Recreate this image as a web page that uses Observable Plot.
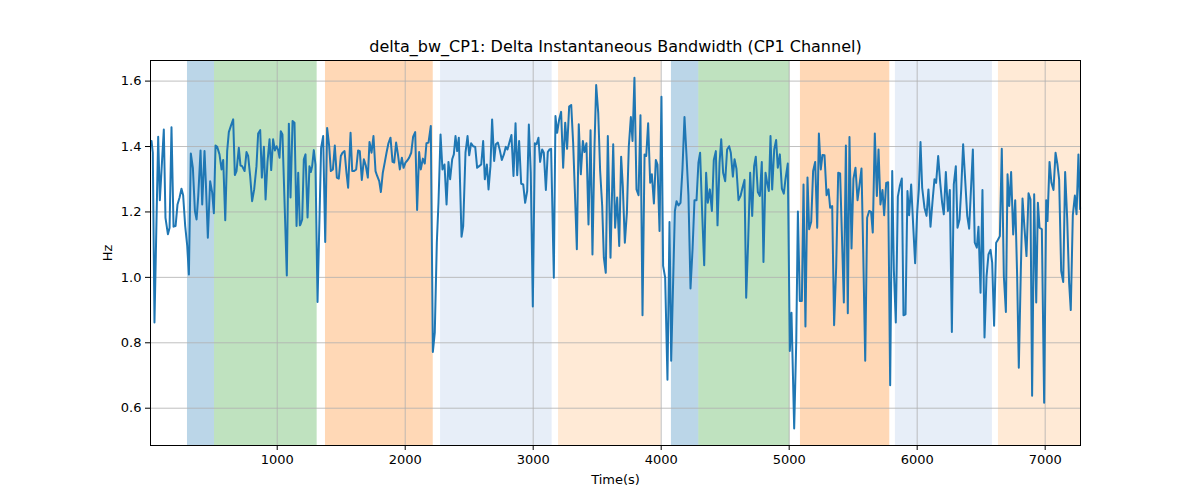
<!DOCTYPE html>
<html>
<head>
<meta charset="utf-8">
<script src="https://cdn.jsdelivr.net/npm/d3@7"></script>
<script src="https://cdn.jsdelivr.net/npm/@observablehq/plot@0.6"></script>
<style>
  body { margin: 0; background: #fff; }
  #chart svg { font-family: "DejaVu Sans", sans-serif; }
</style>
</head>
<body>
<div id="chart"></div>
<script>
const times = [
18,28,41,70,83,114,127,146,159,174,190,206,221,237,252,265,281,297,310,325,341,357,370,383,401,414,432,442,458,476,492,505,518,531,549,565,578,594,609,622,638,656,669,682,700,713,726,745,760,773,789,804,820,838,851,867,880,896,909,924,940,953,968,982,995,1008,1018,1028,1041,1075,1091,1104,1120,1135,1151,1164,1177,
1182,1195,1208,1221,1237,1252,1263,1273,1286,1299,1315,1343,1359,1375,1390,1406,1419,1435,1450,1466,1481,1497,1510,1526,1541,1554,1573,1586,1601,1617,1632,1645,1661,1677,1692,1708,1721,1737,1752,1768,1781,1797,1810,1825,1841,1854,1869,1885,1901,1914,1929,1945,1958,1974,1987,2002,2018,2031,2047,2062,2078,2093,2109,2122,2138,2153,2166,2182,2200,2216,2231,2247,2260,2276,2291,2307,2323,2338,2351,2367,2380,
2393,2406,2419,2440,2453,2471,2487,2500,2515,2531,2547,2562,2578,2594,2609,2622,2638,2651,2666,2679,2695,2708,2724,2739,2755,2771,2786,2799,2815,2830,2846,2862,2875,2890,2906,2922,2937,2953,2966,2981,2997,3013,3026,3041,3054,3070,3083,3099,3114,3127,3140,3161,3174,3187,3203,3218,3234,3250,3265,3281,3297,3312,3325,3341,3356,3372,3388,3401,3416,3432,3448,3463,3479,3492,3508,3523,3539,3552,3567,3583,
3604,3625,3640,3656,3672,3687,3700,3716,3732,3747,3763,3776,3791,3807,3823,3838,3854,3870,3883,3898,3914,3927,3943,3958,3971,3987,4002,4015,4031,4049,4065,4078,4107,4120,4135,4151,4166,4182,4198,4213,4229,4245,4260,4276,4291,4304,4320,4336,4351,4364,4380,4396,4411,4427,4440,4456,4469,4484,4500,4515,4531,4544,4560,4573,4588,4604,4620,4635,4651,4664,4679,4695,4711,4726,4739,4755,4771,4786,4799,
4815,4828,4841,4854,4867,4883,4898,4911,4927,4943,4958,4971,4989,5005,5018,5039,5055,5068,5083,5099,5112,5127,5143,5156,5172,5187,5203,5219,5232,5247,5260,5276,5292,5307,5320,5336,5351,5367,5383,5398,5411,5427,5443,5458,5471,5487,5502,5518,5534,5549,5565,5578,5594,5609,5625,5640,5653,5669,5685,5698,5713,5729,5742,5758,5773,5789,5805,5818,5833,5849,5864,5880,5893,5909,5924,5937,5953,5969,5984,6000,6013,
6026,6039,6057,6073,6088,6104,6120,6135,6148,6164,6180,6195,6208,6224,6240,6255,6271,6286,6302,6315,6331,6344,6359,6375,6391,6406,6419,6435,6450,6466,6479,6495,6510,6526,6542,6557,6573,6586,6601,6617,6630,6646,6661,6677,6693,6706,6719,6734,6750,6766,6781,6794,6810,6823,6838,6854,6870,6885,6898,6914,6930,6943,6956,6974,6992,7008,7018,7034,7049,7065,7081,7096,7109,7125,7141,7156,7172,7187,7200,7216,7232,7245,7260,7273
];
const values = [
1.417,1.381,0.862,1.430,1.236,1.452,1.182,1.132,1.152,1.459,1.155,1.157,1.223,1.244,1.271,1.251,1.157,1.096,1.009,1.379,1.335,1.203,1.177,1.249,1.388,1.223,1.386,1.294,1.121,1.294,1.259,1.196,1.403,1.399,1.376,1.330,1.359,1.175,1.386,1.444,1.463,1.483,1.313,1.325,1.396,1.342,1.340,1.325,1.383,1.371,1.308,1.233,1.269,1.340,1.440,1.450,1.305,1.399,1.238,1.353,1.422,1.328,1.422,1.388,1.401,1.388,1.366,1.447,1.437,1.006,1.470,1.244,1.478,1.473,1.157,1.320,1.159,
1.162,1.177,1.361,1.376,1.183,1.340,1.322,1.340,1.389,1.345,0.925,1.396,1.432,1.108,1.457,1.401,1.325,1.330,1.403,1.305,1.302,1.371,1.381,1.386,1.320,1.274,1.442,1.325,1.325,1.330,1.388,1.386,1.298,1.361,1.342,1.305,1.414,1.381,1.432,1.325,1.310,1.294,1.261,1.320,1.353,1.381,1.410,1.427,1.353,1.351,1.412,1.371,1.330,1.366,1.335,1.351,1.358,1.366,1.381,1.430,1.444,1.206,1.383,1.330,1.363,1.348,1.410,1.412,1.463,0.772,0.831,1.106,1.228,1.437,1.330,1.345,1.223,1.353,1.300,1.361,1.376,
1.432,1.386,1.427,1.124,1.157,1.381,1.432,1.373,1.410,1.401,1.399,1.335,1.340,1.345,1.417,1.300,1.345,1.269,1.340,1.483,1.356,1.407,1.412,1.389,1.359,1.376,1.399,1.391,1.414,1.435,1.310,1.471,1.312,1.417,1.286,1.284,1.228,1.264,1.467,1.320,0.911,1.410,1.407,1.427,1.353,1.391,1.381,1.267,1.383,1.391,1.393,0.999,1.493,1.442,1.483,1.506,1.335,1.473,1.393,1.522,1.527,1.412,1.269,1.086,1.468,1.315,1.417,1.383,1.410,1.162,1.450,1.070,1.401,1.588,1.503,1.325,1.218,1.060,1.014,1.432,
1.060,1.407,1.152,1.244,1.096,1.369,1.279,1.106,1.198,1.401,1.490,1.417,1.610,1.269,1.251,1.496,0.884,1.376,1.371,1.471,1.289,1.315,1.226,1.359,1.345,1.142,1.552,1.035,0.999,0.687,1.169,0.745,1.203,1.233,1.220,1.228,1.330,1.490,1.371,1.249,0.966,1.086,1.236,1.236,1.351,1.381,1.198,1.037,1.320,1.228,1.269,1.203,1.359,1.386,1.159,1.351,1.422,1.320,1.294,1.391,1.401,1.381,1.308,1.361,1.332,1.236,1.249,1.274,1.298,0.938,1.104,1.320,1.188,1.340,1.369,1.261,1.249,1.353,1.047,
1.320,1.289,1.264,1.432,1.269,1.391,1.420,1.335,1.376,1.271,1.256,1.300,1.348,0.775,0.892,0.538,0.801,1.201,0.928,0.928,1.284,0.850,1.305,1.147,1.170,1.325,1.353,1.152,1.440,1.330,1.374,1.373,1.251,1.269,1.213,1.218,0.854,1.030,1.320,1.318,1.142,0.923,1.403,0.890,1.429,1.088,1.302,1.335,1.236,1.281,1.333,1.086,0.745,1.182,1.203,1.200,1.137,1.440,1.249,1.391,1.223,1.267,1.190,1.289,1.291,0.670,1.325,1.020,0.862,1.247,1.279,1.302,0.884,0.887,1.264,1.190,1.284,1.157,1.043,1.198,1.269,
1.414,1.274,1.213,1.188,1.269,1.155,1.233,1.300,1.289,1.371,1.289,1.228,1.193,1.322,1.203,1.267,0.833,1.284,1.340,1.152,1.177,1.269,1.407,1.298,1.188,1.149,1.259,1.391,1.106,1.091,1.155,0.953,1.267,0.816,1.004,1.070,1.084,1.045,0.852,1.106,1.114,1.126,1.393,1.004,0.894,1.315,1.218,1.322,1.131,1.236,1.004,0.724,1.025,1.241,1.152,1.065,1.257,1.239,0.638,1.254,0.923,1.228,1.152,1.147,0.617,1.236,1.172,1.353,1.289,1.267,1.381,1.345,1.300,1.020,0.986,1.322,1.179,0.984,0.900,1.190,1.250,1.193,1.376,1.208
];

// shaded phases
const spanStarts = [299, 510, 1377, 2276, 3198, 4080, 4294, 5088, 5830, 6635];
const spanEnds   = [510, 1312, 2219, 3148, 4000, 4294, 5005, 5786, 6588, 7276];
const spanKinds  = ["A", "B", "C", "D", "E", "A", "B", "C", "D", "E"];

const xTicks = [1000, 2000, 3000, 4000, 5000, 6000, 7000];
const yTicks = [0.6, 0.8, 1.0, 1.2, 1.4, 1.6];

const series = times.map((t, i) => ({t, v: values[i]}));
const spans = spanStarts.map((s, i) => ({x1: s, x2: spanEnds[i], kind: spanKinds[i]}));

const kindColor = {A: "#1f77b4", B: "#2ca02c", C: "#ff7f0e", D: "#aec7e8", E: "#ffbb78"};

const chart = Plot.plot({
  width: 1200,
  height: 500,
  marginLeft: 150,
  marginRight: 120,
  marginTop: 60,
  marginBottom: 55,
  style: {fontFamily: "DejaVu Sans, sans-serif", fontSize: "13px", background: "#fff"},
  x: {domain: [10, 7276]},
  y: {domain: [0.486, 1.663]},
  marks: [
    Plot.rectX(spans, {x1: "x1", x2: "x2", y1: 0.486, y2: 1.663, fill: d => kindColor[d.kind], fillOpacity: 0.3}),
    Plot.gridX(xTicks, {stroke: "#b0b0b0", strokeOpacity: 1, strokeWidth: 0.8}),
    Plot.gridY(yTicks, {stroke: "#b0b0b0", strokeOpacity: 1, strokeWidth: 0.8}),
    Plot.line(series, {x: "t", y: "v", stroke: "#1f77b4", strokeWidth: 2}),
    Plot.axisX(xTicks, {tickFormat: d => String(d), tickSize: 5, tickPadding: 4, fontSize: 13,
      label: "Time(s)", labelAnchor: "center", labelArrow: "none", labelOffset: 38}),
    Plot.axisY(yTicks, {tickFormat: d3.format(".1f"), tickSize: 5, tickPadding: 4, fontSize: 13,
      label: "Hz", labelAnchor: "center", labelArrow: "none", labelOffset: 48}),
    Plot.frame({stroke: "#000", strokeWidth: 1}),
    Plot.text(["delta_bw_CP1: Delta Instantaneous Bandwidth (CP1 Channel)"], {
      frameAnchor: "top", dy: -20, fontSize: 16, fill: "#000"})
  ]
});
document.getElementById("chart").appendChild(chart);
</script>
</body>
</html>
